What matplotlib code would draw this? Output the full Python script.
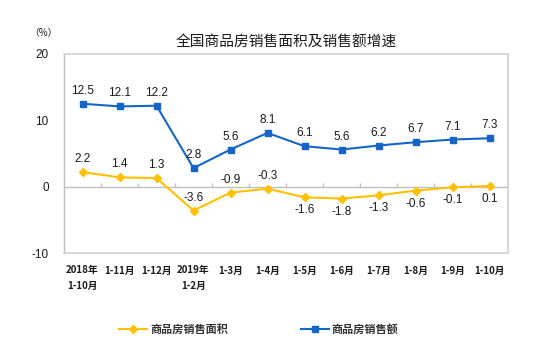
import matplotlib
matplotlib.use("Agg")
import matplotlib.pyplot as plt
from matplotlib.lines import Line2D

plt.rcParams['font.family'] = ['Liberation Sans', 'Noto Sans CJK SC', 'DejaVu Sans']

categories = ["2018年\n1-10月", "1-11月", "1-12月", "2019年\n1-2月", "1-3月", "1-4月",
              "1-5月", "1-6月", "1-7月", "1-8月", "1-9月", "1-10月"]
area_growth = [2.2, 1.4, 1.3, -3.6, -0.9, -0.3, -1.6, -1.8, -1.3, -0.6, -0.1, 0.1]
sales_growth = [12.5, 12.1, 12.2, 2.8, 5.6, 8.1, 6.1, 5.6, 6.2, 6.7, 7.1, 7.3]
# label placement for the area series: True = above the point
area_label_above = [True, True, True, True, True, True, False, False, False, False, False, False]
yticks = [20, 10, 0, -10]

yellow = "#FFC000"
blue = "#1565C8"
grid_gray = "#BFBFBF"
text_col = "#1a1a1a"
cjk = ['Noto Sans CJK SC', 'DejaVu Sans']

fig = plt.figure(figsize=(5.5, 3.5), dpi=100)
ax = fig.add_axes([64/550, 97/350, 444/550, 199/350])

x = list(range(len(categories)))
ax.plot(x, sales_growth, color=blue, lw=1.5, marker="s", ms=4.5, zorder=3)
ax.plot(x, area_growth, color=yellow, lw=1.5, marker="D", ms=4, zorder=3)

for xi, v in zip(x, sales_growth):
    ax.annotate(f"{v:.1f}", (xi, v), xytext=(0, 5), textcoords="offset points",
                ha="center", va="bottom", fontsize=8.5, color=text_col)
for xi, v, up in zip(x, area_growth, area_label_above):
    ax.annotate(f"{v:.1f}", (xi, v), xytext=(0, 5 if up else -5), textcoords="offset points",
                ha="center", va="bottom" if up else "top", fontsize=8.5, color=text_col)

ax.set_xlim(-0.5, len(categories) - 0.5)
ax.set_ylim(-10, 20)
ax.set_yticks(yticks)
ax.set_yticklabels([str(t) for t in yticks], fontsize=8.5, color=text_col)
ax.tick_params(axis="y", length=0, pad=11)
ax.set_xticks(x)
ax.set_xticklabels(categories, fontsize=7, fontweight="bold", family=cjk,
                   color=text_col, linespacing=1.7)
ax.tick_params(axis="x", length=0, pad=9)
for lab in ax.get_xticklabels():
    lab.set_verticalalignment("top")

for s in ax.spines.values():
    s.set_color("#D0D0D0")
    s.set_linewidth(1.2)
ax.spines["left"].set_color(grid_gray)
ax.spines["left"].set_linewidth(1)

# zero line with small category-boundary ticks
ax.axhline(0, color=grid_gray, lw=1, zorder=1)
ax.vlines([i + 0.5 for i in range(len(categories) - 1)], 0, 0.55, color=grid_gray, lw=1, zorder=1)

fig.text(286/550, 1 - 43/350, "全国商品房销售面积及销售额增速", ha="center", va="center",
         fontsize=10.6, family=cjk, color=text_col)
fig.text(43/550, 1 - 33/350, "（%）", ha="center", va="center", fontsize=7,
         family=cjk, color=text_col)

handles = [Line2D([], [], color=yellow, lw=1.5, marker="D", ms=4),
           Line2D([], [], color=blue, lw=1.5, marker="s", ms=4.5)]
leg = fig.legend(handles, ["商品房销售面积", "商品房销售额"], loc="center",
                 bbox_to_anchor=(259/550, 1 - 329/350), ncol=2, frameon=False,
                 prop={"family": cjk, "size": 8, "weight": "bold"},
                 handlelength=2.5, handletextpad=0.25, columnspacing=6.6)
for t in leg.get_texts():
    t.set_color("#333333")

fig.savefig("out.png", dpi=100, facecolor="white")
